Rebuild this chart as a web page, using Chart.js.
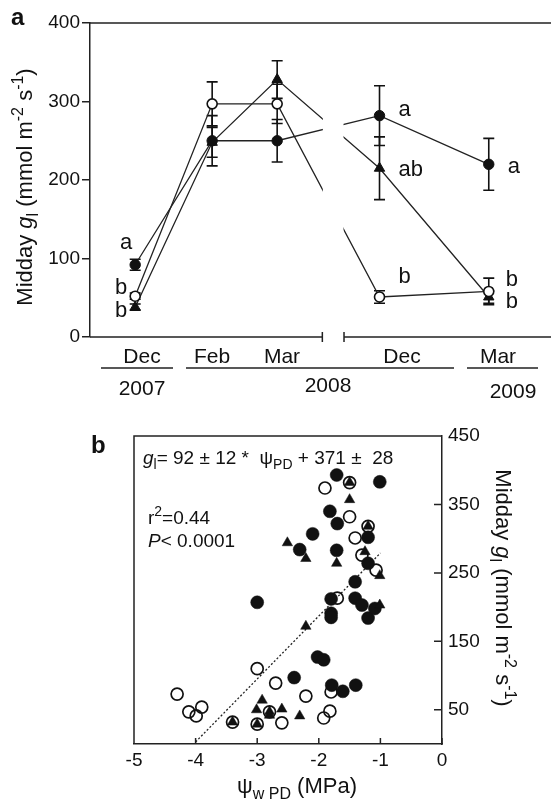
<!DOCTYPE html>
<html>
<head>
<meta charset="utf-8">
<script src="https://cdn.jsdelivr.net/npm/chart.js@4.4.1/dist/chart.umd.min.js"></script>
<style>
 body { margin: 0; background: #fff; }
 canvas { position: absolute; left: 0; }
</style>
</head>
<body>
<canvas id="chartA" width="558" height="400" style="top:0"></canvas>
<canvas id="chartB" width="558" height="399" style="top:400px"></canvas>
<script>
var FONT = '"Liberation Sans", Arial, Helvetica, sans-serif';
var INK = '#111';

// ---- panel a: midday gl per sampling date (mean, error) ----
var dateLabels = ['Dec 2007', 'Feb 2008', 'Mar 2008', 'Dec 2008', 'Mar 2009'];
var datePos = [9.8, 26.5, 40.6, 62.8, 86.5]; // place on the broken time axis
var breakFrom = 50.4, breakTo = 55.1;
var filledMean = [92, 250, 250, 282, 220];
var filledSem = [7, 32, 27, 38, 33];
var openMean = [52, 297, 297, 51, 58];
var openSem = [4, 28, 25, 8, 17];
var triMean = [38, 248, 328, 215, 51];
var triSem = [4, 19, 24, 40, 8];
var aTicks = [0, 100, 200, 300, 400];
// letters: text, date index, y value, side
var letters = [
 ['a', 0, 120, 'L'], ['b', 0, 62, 'L'], ['b', 0, 33, 'L'],
 ['a', 3, 289, 'R'], ['ab', 3, 213, 'R'], ['b', 3, 76, 'R'],
 ['a', 4, 217, 'R'], ['b', 4, 73, 'R'], ['b', 4, 45, 'R']
];

// ---- panel b: gl vs predawn water potential ----
var bFilled = [[-3.00, 207], [-2.40, 97], [-2.31, 284], [-2.10, 307], [-2.02, 127], [-1.92, 123],
 [-1.82, 340], [-1.71, 393], [-1.70, 322], [-1.71, 283], [-1.80, 212], [-1.80, 191], [-1.80, 185],
 [-1.79, 86], [-1.61, 77], [-1.40, 86], [-1.41, 237], [-1.41, 213], [-1.30, 203], [-1.20, 184],
 [-1.09, 198], [-1.20, 302], [-1.20, 264], [-1.01, 383]];
var bOpen = [[-4.30, 73], [-4.11, 47], [-3.90, 54], [-3.99, 41], [-3.40, 32], [-3.00, 110],
 [-3.00, 29], [-2.80, 47], [-2.70, 89], [-2.60, 31], [-2.21, 70], [-1.92, 38], [-1.82, 48],
 [-1.80, 76], [-1.90, 374], [-1.50, 382], [-1.50, 332], [-1.20, 318], [-1.41, 301], [-1.30, 276],
 [-1.07, 254], [-1.70, 213]];
var bTri = [[-3.40, 32], [-3.00, 29], [-2.92, 64], [-3.01, 50], [-2.80, 47], [-2.80, 42], [-2.60, 51],
 [-2.31, 41], [-2.21, 172], [-2.51, 294], [-2.21, 271], [-1.71, 264], [-1.50, 382], [-1.50, 357],
 [-1.20, 318], [-1.25, 281], [-1.01, 246], [-1.01, 203]];
var fitLine = [[-4.0, 3], [-1.0, 279]];
var bXTicks = [-5, -4, -3, -2, -1, 0];
var bYTicks = [50, 150, 250, 350, 450];

function toXY(pairs) { return pairs.map(p => ({ x: p[0], y: p[1] })); }

// draw a run of text pieces (italic / sub / sup), optionally rotated
function segFont(s, size) {
 var sz = (s.sub || s.sup) ? Math.round(size * 0.72) : size;
 return (s.it ? 'italic ' : '') + (s.bold ? 'bold ' : '') + sz + 'px ' + FONT;
}
function drawRich(ctx, segs, x, y, size, align, rot) {
 ctx.save();
 ctx.translate(x, y);
 if (rot) ctx.rotate(rot);
 var w = 0;
 segs.forEach(s => { ctx.font = segFont(s, size); w += ctx.measureText(s.t).width; });
 var cx = align === 'center' ? -w / 2 : 0;
 ctx.textAlign = 'left';
 ctx.textBaseline = 'alphabetic';
 ctx.fillStyle = INK;
 segs.forEach(s => {
  ctx.font = segFont(s, size);
  var dy = s.sub ? size * 0.28 : (s.sup ? -size * 0.4 : 0);
  ctx.fillText(s.t, cx, dy);
  cx += ctx.measureText(s.t).width;
 });
 ctx.restore();
}

var glTitle = [{ t: 'Midday ' }, { t: 'g', it: true }, { t: 'l', sub: true }, { t: ' (mmol m' },
 { t: '-2', sup: true }, { t: ' s' }, { t: '-1', sup: true }, { t: ')' }];

var panelA = {
 id: 'panelA',
 beforeDatasetsDraw(chart) {
  var ctx = chart.ctx, x = chart.scales.x, y = chart.scales.y;
  ctx.save();
  ctx.strokeStyle = INK;
  ctx.lineWidth = 1.6;
  [[filledMean, filledSem], [openMean, openSem], [triMean, triSem]].forEach(function (ms) {
   ms[0].forEach(function (v, i) {
    var px = x.getPixelForValue(datePos[i]);
    var top = y.getPixelForValue(v + ms[1][i]), bot = y.getPixelForValue(v - ms[1][i]);
    ctx.beginPath();
    ctx.moveTo(px, top); ctx.lineTo(px, bot);
    ctx.moveTo(px - 5.5, top); ctx.lineTo(px + 5.5, top);
    ctx.moveTo(px - 5.5, bot); ctx.lineTo(px + 5.5, bot);
    ctx.stroke();
   });
  });
  ctx.restore();
 },
 afterDatasetsDraw(chart) {
  var ctx = chart.ctx, a = chart.chartArea, x = chart.scales.x;
  var b0 = x.getPixelForValue(breakFrom), b1 = x.getPixelForValue(breakTo);
  ctx.save();
  ctx.fillStyle = '#fff';
  ctx.fillRect(b0 + 0.5, a.top + 2, b1 - b0 - 1, a.bottom - a.top - 2);
  ctx.restore();
 },
 afterDraw(chart) {
  var ctx = chart.ctx, a = chart.chartArea, x = chart.scales.x, y = chart.scales.y;
  var b0 = x.getPixelForValue(breakFrom), b1 = x.getPixelForValue(breakTo);
  ctx.save();
  ctx.strokeStyle = '#222';
  ctx.lineWidth = 1.5;
  ctx.beginPath();
  ctx.moveTo(a.left, a.top); ctx.lineTo(a.right, a.top);
  ctx.moveTo(a.left, a.bottom); ctx.lineTo(b0, a.bottom);
  ctx.moveTo(b1, a.bottom); ctx.lineTo(a.right, a.bottom);
  ctx.moveTo(b0, a.bottom - 5); ctx.lineTo(b0, a.bottom + 5);
  ctx.moveTo(b1, a.bottom - 5); ctx.lineTo(b1, a.bottom + 5);
  ctx.stroke();

  // month / year labels
  ctx.fillStyle = INK;
  ctx.textAlign = 'center';
  ctx.textBaseline = 'alphabetic';
  ctx.font = '21px ' + FONT;
  [['Dec', 142], ['Feb', 212], ['Mar', 282], ['Dec', 402], ['Mar', 498]].forEach(function (m) {
   ctx.fillText(m[0], m[1], 363);
  });
  [['2007', 142, 395], ['2008', 328, 392], ['2009', 513, 398]].forEach(function (m) {
   ctx.fillText(m[0], m[1], m[2]);
  });
  ctx.lineWidth = 1.3;
  ctx.beginPath();
  [[101, 173], [186, 454], [467, 538]].forEach(function (s) {
   ctx.moveTo(s[0], 368); ctx.lineTo(s[1], 368);
  });
  ctx.stroke();

  // significance letters
  ctx.font = '22px ' + FONT;
  ctx.textBaseline = 'middle';
  letters.forEach(function (l) {
   var px = x.getPixelForValue(datePos[l[1]]);
   var py = y.getPixelForValue(l[2]);
   if (l[3] === 'L') {
    ctx.textAlign = 'right';
    ctx.fillText(l[0], px - (l[0] === 'a' ? 3 : 8), py);
   } else {
    ctx.textAlign = 'left';
    ctx.fillText(l[0], px + (l[1] === 4 && l[0] === 'b' ? 17 : 19), py);
   }
  });

  ctx.textAlign = 'left';
  ctx.textBaseline = 'alphabetic';
  ctx.font = 'bold 24px ' + FONT;
  ctx.fillText('a', 11, 25);
  ctx.restore();

  drawRich(ctx, glTitle, 32, 187, 22, 'center', -Math.PI / 2);
 }
};

new Chart(document.getElementById('chartA'), {
 type: 'scatter',
 data: {
  datasets: [
   {
    label: 'open', data: datePos.map((p, i) => ({ x: p, y: openMean[i] })), showLine: true,
    borderColor: '#222', borderWidth: 1.3, pointStyle: 'circle', pointRadius: 5,
    pointBackgroundColor: '#fff', pointBorderColor: INK, pointBorderWidth: 1.6
   },
   {
    label: 'filled', data: datePos.map((p, i) => ({ x: p, y: filledMean[i] })), showLine: true,
    borderColor: '#222', borderWidth: 1.3, pointStyle: 'circle', pointRadius: 5.2,
    pointBackgroundColor: INK, pointBorderColor: INK, pointBorderWidth: 1
   },
   {
    label: 'triangle', data: datePos.map((p, i) => ({ x: p, y: triMean[i] })), showLine: true,
    borderColor: '#222', borderWidth: 1.3, pointStyle: 'triangle', pointRadius: 6,
    pointBackgroundColor: INK, pointBorderColor: INK, pointBorderWidth: 1
   }
  ]
 },
 options: {
  responsive: false, animation: false, events: [],
  layout: { padding: { left: 0, top: 23, right: 0, bottom: 63 } },
  plugins: { legend: { display: false }, tooltip: { enabled: false } },
  scales: {
   x: { type: 'linear', min: 0, max: 100, display: false },
   y: {
    min: 0, max: 400,
    afterBuildTicks: function (s) { s.ticks = aTicks.map(v => ({ value: v })); },
    ticks: { font: { family: FONT, size: 19 }, color: INK, padding: 2 },
    grid: { drawOnChartArea: false, drawTicks: true, tickLength: 8, color: '#222', lineWidth: 1.5 },
    border: { color: '#222', width: 1.5 },
    afterFit: function (s) { s.width = 90; }
   }
  }
 },
 plugins: [panelA]
});

// ---- panel b ----
var panelB = {
 id: 'panelB',
 afterDraw(chart) {
  var ctx = chart.ctx, a = chart.chartArea, x = chart.scales.x, y = chart.scales.y;
  ctx.save();
  ctx.strokeStyle = '#222';
  ctx.lineWidth = 1.5;
  ctx.beginPath();
  ctx.moveTo(a.left, a.bottom); ctx.lineTo(a.left, a.top); ctx.lineTo(a.right, a.top);
  bXTicks.forEach(function (v) {
   var px = x.getPixelForValue(v);
   ctx.moveTo(px, a.bottom); ctx.lineTo(px, a.bottom - 6);
  });
  bYTicks.forEach(function (v) {
   var py = y.getPixelForValue(v);
   ctx.moveTo(a.right, py); ctx.lineTo(a.right - 8, py);
  });
  ctx.stroke();

  ctx.fillStyle = INK;
  ctx.font = 'bold 24px ' + FONT;
  ctx.fillText('b', 91, 53);
  ctx.restore();

  drawRich(ctx, [{ t: 'g', it: true }, { t: 'l', sub: true }, { t: '= 92 \u00b1 12 *  \u03c8' },
   { t: 'PD', sub: true }, { t: ' + 371 \u00b1  28' }], 143, 64, 19, 'left');
  drawRich(ctx, [{ t: 'r' }, { t: '2', sup: true }, { t: '=0.44' }], 148, 124, 19, 'left');
  drawRich(ctx, [{ t: 'P', it: true }, { t: '< 0.0001' }], 148, 147, 19, 'left');
  drawRich(ctx, [{ t: '\u03c8' }, { t: 'w PD', sub: true }, { t: ' (MPa)' }], 297, 393, 22, 'center');
  drawRich(ctx, glTitle, 496, 188, 22, 'center', Math.PI / 2);
 }
};

new Chart(document.getElementById('chartB'), {
 type: 'scatter',
 data: {
  datasets: [
   {
    label: 'triangle', data: toXY(bTri), pointStyle: 'triangle', pointRadius: 6,
    pointBackgroundColor: INK, pointBorderColor: INK, pointBorderWidth: 0.5
   },
   {
    label: 'filled', data: toXY(bFilled), pointStyle: 'circle', pointRadius: 6.5,
    pointBackgroundColor: INK, pointBorderColor: INK, pointBorderWidth: 0.5
   },
   {
    label: 'open', data: toXY(bOpen), pointStyle: 'circle', pointRadius: 6,
    pointBackgroundColor: 'rgba(0,0,0,0)', pointBorderColor: INK, pointBorderWidth: 1.7
   },
   {
    label: 'fit', data: toXY(fitLine), showLine: true, pointRadius: 0,
    borderColor: '#222', borderWidth: 1.3, borderDash: [2, 2]
   }
  ]
 },
 options: {
  responsive: false, animation: false, events: [],
  layout: { padding: { left: 134, top: 36, right: 0, bottom: 0 } },
  plugins: { legend: { display: false }, tooltip: { enabled: false } },
  scales: {
   x: {
    type: 'linear', min: -5, max: 0,
    afterBuildTicks: function (s) { s.ticks = bXTicks.map(v => ({ value: v })); },
    ticks: { font: { family: FONT, size: 19 }, color: INK, padding: 5 },
    grid: { drawOnChartArea: false, drawTicks: false },
    border: { color: '#222', width: 1.5 },
    afterFit: function (s) { s.height = 55; }
   },
   y: {
    position: 'right', min: 0, max: 450,
    afterBuildTicks: function (s) { s.ticks = bYTicks.map(v => ({ value: v })); },
    ticks: { font: { family: FONT, size: 19 }, color: INK, padding: 6 },
    grid: { drawOnChartArea: false, drawTicks: false },
    border: { color: '#222', width: 1.5 },
    afterFit: function (s) { s.width = 116; }
   }
  }
 },
 plugins: [panelB]
});
</script>
</body>
</html>
